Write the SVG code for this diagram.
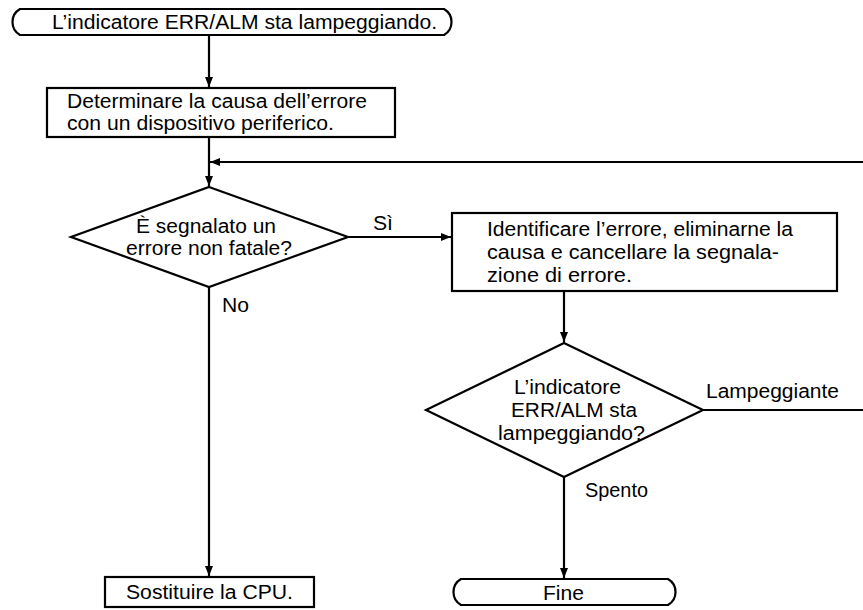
<svg xmlns="http://www.w3.org/2000/svg" width="863" height="610" viewBox="0 0 863 610">
<style>
.s{fill:#fff;stroke:#000;stroke-width:2.2}
.c{fill:none;stroke:#000;stroke-width:2.2}
text{font-family:"Liberation Sans",Arial,sans-serif;font-size:20px;fill:#000}
</style>
<defs>
<marker id="ah" markerUnits="userSpaceOnUse" markerWidth="10" markerHeight="8" refX="10" refY="4" orient="auto">
<path d="M0,0 L10,4 L0,8 Z" fill="#000"/>
</marker>
</defs>
<rect width="863" height="610" fill="#fff"/>
<g id="connectors">
<path class="c" d="M209,35 V87" marker-end="url(#ah)"/>
<path class="c" d="M209,137 V186" marker-end="url(#ah)"/>
<path class="c" d="M863,162 H210" marker-end="url(#ah)"/>
<path class="c" d="M348,237 H451" marker-end="url(#ah)"/>
<path class="c" d="M209,287 V576" marker-end="url(#ah)"/>
<path class="c" d="M564,291 V342" marker-end="url(#ah)"/>
<path class="c" d="M703,410 H863"/>
<path class="c" d="M564,477 V578" marker-end="url(#ah)"/>
<text x="373" y="230" textLength="20" lengthAdjust="spacingAndGlyphs">Sì</text>
<text x="222" y="312" textLength="27" lengthAdjust="spacingAndGlyphs">No</text>
<text x="706" y="398" textLength="133" lengthAdjust="spacingAndGlyphs">Lampeggiante</text>
<text x="585" y="497" textLength="63" lengthAdjust="spacingAndGlyphs">Spento</text>
</g>
<g id="start">
<path class="s" d="M20,9 H444 A15,15 0 0 1 444,35 H20 A15,15 0 0 1 20,9 Z"/>
<text x="52" y="29" textLength="385" lengthAdjust="spacingAndGlyphs">L’indicatore ERR/ALM sta lampeggiando.</text>
</g>
<g id="determine">
<rect class="s" x="47" y="88" width="348" height="49"/>
<text x="67" y="108" textLength="300" lengthAdjust="spacingAndGlyphs">Determinare la causa dell’errore</text>
<text x="67" y="130" textLength="267" lengthAdjust="spacingAndGlyphs">con un dispositivo periferico.</text>
</g>
<g id="decision1">
<path class="s" d="M209,187 L348,237 L209,287 L71,237 Z"/>
<text x="136" y="233" textLength="140" lengthAdjust="spacingAndGlyphs">È segnalato un</text>
<text x="126" y="255" textLength="166" lengthAdjust="spacingAndGlyphs">errore non fatale?</text>
</g>
<g id="identify">
<rect class="s" x="452" y="213" width="385" height="78"/>
<text x="487" y="236" textLength="306" lengthAdjust="spacingAndGlyphs">Identificare l’errore, eliminarne la</text>
<text x="487" y="259" textLength="292" lengthAdjust="spacingAndGlyphs">causa e cancellare la segnala-</text>
<text x="487" y="282" textLength="145" lengthAdjust="spacingAndGlyphs">zione di errore.</text>
</g>
<g id="decision2">
<path class="s" d="M564,343 L703,410 L564,477 L426,410 Z"/>
<text x="514" y="394" textLength="107" lengthAdjust="spacingAndGlyphs">L’indicatore</text>
<text x="511" y="417" textLength="126" lengthAdjust="spacingAndGlyphs">ERR/ALM sta</text>
<text x="498" y="440" textLength="147" lengthAdjust="spacingAndGlyphs">lampeggiando?</text>
</g>
<g id="replace">
<rect class="s" x="105" y="577" width="209" height="30"/>
<text x="126" y="599" textLength="167" lengthAdjust="spacingAndGlyphs">Sostituire la CPU.</text>
</g>
<g id="end">
<path class="s" d="M461,579 H668 A15,15 0 0 1 668,605 H461 A15,15 0 0 1 461,579 Z"/>
<text x="543" y="600" textLength="41" lengthAdjust="spacingAndGlyphs">Fine</text>
</g>
</svg>
